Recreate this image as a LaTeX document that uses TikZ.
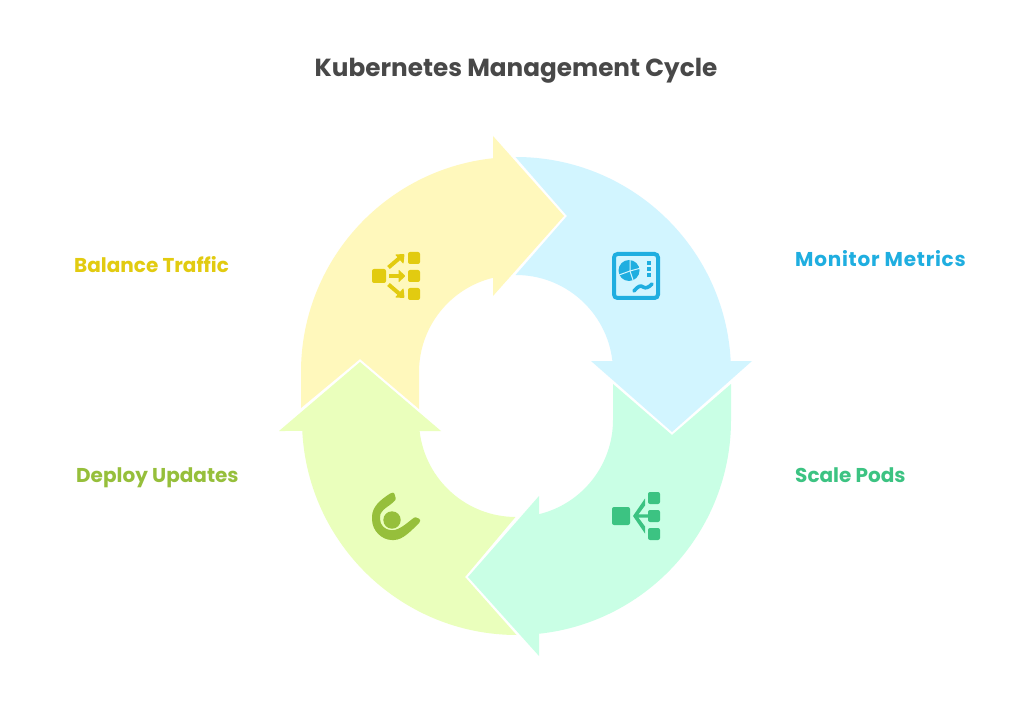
\documentclass[tikz,border=0pt]{standalone}
\usepackage{fontspec}
\setmainfont{Poppins}
\definecolor{yelbg}{HTML}{FFF8BC}
\definecolor{blubg}{HTML}{D2F5FF}
\definecolor{minbg}{HTML}{C9FFE5}
\definecolor{limbg}{HTML}{EAFFBC}
\definecolor{yelfg}{HTML}{E2CB10}
\definecolor{blufg}{HTML}{1FAEE0}
\definecolor{minfg}{HTML}{3CC382}
\definecolor{limfg}{HTML}{96BF3B}
\definecolor{titlefg}{HTML}{484848}
\tikzset{
 lbl/.style={anchor=base west,inner sep=0pt,font=\fontsize{20}{24}\selectfont\bfseries},
 icobox/.style={rounded corners=2pt},
 icoline/.style={line width=4pt}
}
\begin{document}
\begin{tikzpicture}[x=1pt,y=1pt]
\useasboundingbox (0,0) rectangle (1032,721);
\fill[white] (0,0) rectangle (1032,721);
% blue
\fill[blubg] (515.5,564) arc[start angle=90.13,end angle=2.93,radius=215pt] -- (752,360) -- (672,289) -- (591,360) -- (612.4,360) arc[start angle=6.51,end angle=90.3,radius=97pt] -- (567,505) -- cycle;
% yellow
\fill[yelbg] (301,349) arc[start angle=180,end angle=96.14,radius=215pt] -- (493,585) -- (564,505) -- (493,425) -- (493,443.2) arc[start angle=103.72,end angle=180,radius=97pt] -- (419,312) -- (360,362) -- (301,313) -- cycle;
% mint
\fill[minbg] (731,337) -- (731,301) arc[start angle=0,end angle=-83.86,radius=215pt] -- (539,65) -- (468,144) -- (539,225) -- (539,206.8) arc[start angle=-76.28,end angle=0,radius=97pt] -- (613,337) -- (672,286) -- cycle;
% lime
\fill[limbg] (279,290) -- (360,359) -- (441,290) -- (419.6,290) arc[start angle=186.51,end angle=269.7,radius=97pt] -- (465,144) -- (516.5,86) arc[start angle=269.87,end angle=182.93,radius=215pt] -- cycle;
\begin{scope}[shift={(0,721)},y=-1pt]
\node[anchor=base,inner sep=0pt,text=titlefg,font=\fontsize{24.7}{28}\selectfont\bfseries] (title) at (516,77) {Kubernetes Management Cycle};
\node[lbl,text=yelfg] (balance) at (74,273) {Balance Traffic};
\node[lbl,text=blufg] (monitor) at (795,267) {\addfontfeature{LetterSpace=3.8}Monitor Metrics};
\node[lbl,text=limfg] (deploy) at (76,482) {Deploy Updates};
\node[lbl,text=minfg] (scale) at (795,482) {Scale Pods};
% yellow icon
\begin{scope}[yelfg]
\fill[icobox] (372,269) rectangle (386,283);
\fill[icobox] (408,252) rectangle (420,264);
\fill[icobox] (408,270) rectangle (420,282);
\fill[icobox] (408,288) rectangle (420,300);
\draw[icoline] (389,276) -- (400,276);
\fill[rounded corners=.8pt] (398.5,269.5) -- (405.5,276) -- (398.5,282.5) -- cycle;
\draw[icoline] (388.5,267.5) -- (399,258.5);
\fill[rounded corners=.8pt] (395,254.5) -- (404.5,254) -- (403.5,264) -- cycle;
\draw[icoline] (388.5,284.5) -- (399,293.5);
\fill[rounded corners=.8pt] (395,297.5) -- (404.5,298) -- (403.5,288) -- cycle;
\end{scope}
% blue icon
\begin{scope}
\draw[blufg,line width=4pt,rounded corners=3.5pt] (614,254) rectangle (658,298);
\fill[blufg] (629,270.5) circle[radius=10.5pt];
\draw[blubg,line width=1pt] (630,258) -- (630,271) -- (619,275);
\draw[blubg,line width=1pt] (630,271) -- (634,283);
\draw[blubg,line width=1pt] (630,271) -- (641,268);
\fill[blufg] (647,261) rectangle (651,265);
\fill[blufg] (647,267) rectangle (651,271);
\fill[blufg] (647,273) rectangle (651,277);
\draw[blufg,line width=3.6pt,line cap=round,line join=round] (634,291) .. controls (638,286) and (641,285) .. (643,287) .. controls (646,289) and (649,287) .. (652,284);
\end{scope}
% mint icon
\begin{scope}[minfg]
\fill[icobox] (612,507) rectangle (630,525);
\fill[icobox] (648,492) rectangle (660,504);
\fill[icobox] (648,510) rectangle (660,522);
\fill[icobox] (648,528) rectangle (660,540);
\fill (633,516) -- (645,498.5) -- (645,505.5) -- (638.5,514.3) -- (648,514.3) -- (648,517.7) -- (638.5,517.7) -- (645,526.5) -- (645,533.5) -- cycle;
\end{scope}
% lime icon
\begin{scope}[limfg]
\fill[rounded corners=1pt] (391,493) .. controls (380,500) and (372,507) .. (372,518) .. controls (372,531) and (382,540) .. (393,540) .. controls (403,540) and (412,530) .. (420,522) -- (420,519) -- (415,517) .. controls (408,522) and (400,530) .. (392,530) .. controls (385,530) and (380,525) .. (380,518) .. controls (380,509) and (391,506) .. (396,499) -- (394,492.5) -- cycle;
\fill[limbg] (392,520) circle[radius=10pt];
\fill (392,520) circle[radius=8.7pt];
\end{scope}
\end{scope}
\end{tikzpicture}
\end{document}
